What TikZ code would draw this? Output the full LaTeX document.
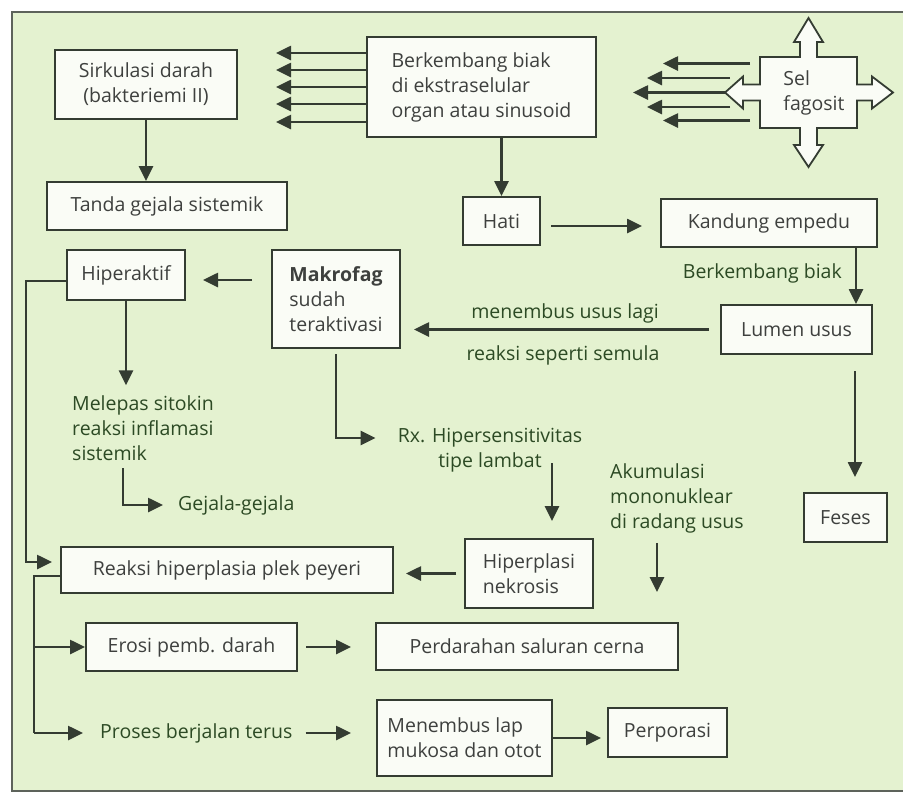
\documentclass[tikz,border=0pt]{standalone}
\usepackage{fontspec}
\setmainfont{Open Sans}
\usetikzlibrary{arrows.meta}
\usetikzlibrary{positioning}
\usetikzlibrary{calc}
\definecolor{bggreen}{RGB}{228,242,208}
\definecolor{boxwhite}{RGB}{250,252,246}
\definecolor{linegray}{RGB}{52,60,50}
\definecolor{boxtext}{RGB}{62,64,62}
\definecolor{lblgreen}{RGB}{44,74,36}
\tikzset{box/.style = {draw=linegray, fill=boxwhite, line width=2pt,
                       inner sep=0pt, text=boxtext, align=center},
         lbl/.style = {text=lblgreen, inner sep=0pt, align=left},
         arr/.style = {draw=linegray, line width=2.6pt,
                       -{Triangle[length=15pt,width=14pt]}}}

\begin{document}
\begin{tikzpicture}[x=1pt, y=-1pt, font=\fontsize{19.5}{25}\selectfont]
  \useasboundingbox (0,0) rectangle (903,796);
  \fill [white] (0,0) rectangle (903,796);
  \draw [fill=bggreen, draw=linegray!80, line width=2pt] (12,12) rectangle (920,791);

  % top row
  \node [box, minimum width=182pt, minimum height=69pt] (sirk) at (146,84.5)
        {Sirkulasi darah\\(bakteriemi II)};
  \node [box, minimum width=240pt, minimum height=48pt] (tanda) at (167,206)
        {Tanda gejala sistemik};
  \node [box, minimum width=229pt, minimum height=100pt, align=left] (berk) at (481.5,87)
        {Berkembang biak\\di ekstraselular\\organ atau sinusoid};

  % sel fagosit, four-way arrow
  \coordinate (selc) at (808.5,92.5);
  \draw [fill=boxwhite, draw=linegray, line width=1.8pt, line join=miter]
        (760,57) -- (800,57) -- (800,42) -- (794,42) -- (808.5,18) -- (823,42) -- (817,42) -- (817,57)
        -- (857,57) -- (857,84.5) -- (872,84.5) -- (872,76.5) -- (893,92.5) -- (872,108.5) -- (872,100.5) -- (857,100.5)
        -- (857,128) -- (817,128) -- (817,145) -- (823,145) -- (808.5,167) -- (794,145) -- (800,145) -- (800,128)
        -- (760,128) -- (760,100.5) -- (743,100.5) -- (743,108.5) -- (725,92.5) -- (743,76.5) -- (743,84.5) -- (760,84.5) -- cycle;
  \node [inner sep=0pt, text=boxtext, align=left] (sel) at (814,92.5) {Sel\\fagosit};

  \foreach \dy in {-34,-17,0,17,35}
    \draw [arr] (berk.west) ++(0,\dy) -- ++(-90,0);
  \foreach \dx/\dy/\len in {-58.5/-29/-87, -78.5/-14.5/-83, -83.5/0/-92, -78.5/14.5/-83, -58.5/28/-87}
    \draw [arr] (selc) ++(\dx,\dy) -- ++(\len,0);

  \draw [arr] (sirk.south) -- (sirk.south |- tanda.north);

  % liver and gall bladder
  \node [box, minimum width=77pt, minimum height=48pt] (hati) at (501.5,221) {Hati};
  \node [box, minimum width=216pt, minimum height=48pt] (kand) at (769,223) {Kandung empedu};
  \node [box, minimum width=151pt, minimum height=49pt] (lumen) at (796.5,329.5) {Lumen usus};
  \node [box, minimum width=83pt, minimum height=49pt] (feses) at (845.5,517.5) {Feses};

  \draw [arr] (hati.north |- berk.south) -- (hati.north);
  \draw [arr, shorten <=10pt, shorten >=18pt] ([yshift=-5pt]hati.east) -- ([yshift=-5pt]hati.east -| kand.west);
  \draw [arr] ([xshift=-22pt]kand.south east) -- ([xshift=-22pt]kand.south east |- lumen.north);
  \node [lbl, anchor=east] (bb) at (842,273) {Berkembang biak};
  \draw [arr, shorten <=16pt, shorten >=15pt] ([xshift=-18pt]lumen.south east) -- ([xshift=-18pt]lumen.south east |- feses.north);

  % makrofag
  \node [box, minimum width=128pt, minimum height=98pt, align=left] (makro) at (336,299)
        {\textbf{Makrofag}\\sudah\\teraktivasi};
  \node [box, minimum width=118pt, minimum height=50pt] (hiper) at (126,275) {Hiperaktif};

  \draw [arr, shorten <=11pt, shorten >=13pt] (lumen.west) -- (lumen.west -| makro.east);
  \node [lbl] (tembus) at (565,313) {menembus usus lagi};
  \node [lbl] (semula) at (563,355) {reaksi seperti semula};
  \draw [arr, shorten <=19pt, shorten >=17pt] ([yshift=-5pt]hiper.east -| makro.west) -- ([yshift=-5pt]hiper.east);

  \node [lbl, anchor=west] (melepas) at (72,428) {Melepas sitokin\\reaksi inflamasi\\sistemik};
  \node [lbl, anchor=west] (gejala) at (178,505) {Gejala-gejala};
  \draw [arr, shorten >=10pt] (hiper.south) -- (hiper.south |- melepas.north);
  \coordinate (melepas-out) at (123,468);
  \draw [arr, shorten >=15pt] (melepas-out) |- (gejala.west);

  \node [lbl, align=center] (rx) at (490,450) {Rx. Hipersensitivitas\\tipe lambat};
  \draw [arr, shorten <=5pt, shorten >=22pt] (makro.south) |- ($(rx.west)+(0,-12)$);

  \node [lbl, anchor=west] (akum) at (610,498) {Akumulasi\\mononuklear\\di radang usus};
  \coordinate (akum-end) at (657,592);
  \draw [arr] (akum-end |- akum.south) ++(0,10) -- (akum-end);

  % lower chain
  \node [box, minimum width=128pt, minimum height=69pt, align=left] (hipl) at (529,573.5)
        {Hiperplasi\\nekrosis};
  \coordinate (lambat-out) at (552,463);
  \draw [arr, shorten >=17pt] (lambat-out) -- (lambat-out |- hipl.north);
  \node [box, minimum width=332pt, minimum height=46pt] (reaksi) at (227,570) {Reaksi hiperplasia plek peyeri};
  \draw [arr, shorten <=8pt, shorten >=12pt] (hipl.west) -- (hipl.west -| reaksi.east);
  \draw [arr, shorten >=8pt] ([yshift=-6pt]hiper.west) -- ++(-40,0) |- ([yshift=8pt]reaksi.west);

  \node [box, minimum width=211pt, minimum height=48pt] (erosi) at (191.5,647) {Erosi pemb. darah};
  \node [box, minimum width=302pt, minimum height=47pt] (perd) at (527,646.5) {Perdarahan saluran cerna};
  \node [lbl, anchor=west] (proses) at (100,733) {Proses berjalan terus};
  \node [box, minimum width=175pt, minimum height=76pt, align=left] (menem) at (464.5,738)
        {Menembus lap\\mukosa dan otot};
  \node [box, minimum width=119pt, minimum height=49pt] (perpo) at (667.5,732.5) {Perporasi};

  \draw [line width=2.6pt, draw=linegray] ([yshift=-6pt]reaksi.west) -- ++(-26,0) coordinate (rail)
        -- (rail |- proses.west);
  \draw [arr] (rail |- erosi.west) -- (erosi.west);
  \draw [arr, shorten >=17pt] (rail |- proses.west) -- (proses.west);
  \draw [arr, shorten <=8pt, shorten >=24pt] (erosi.east) -- (erosi.east -| perd.west);
  \draw [arr, shorten <=13pt, shorten >=25pt] (proses.east) -- (proses.east -| menem.west);
  \draw [arr, shorten >=6pt] (menem.east) -- (menem.east -| perpo.west);
\end{tikzpicture}
\end{document}
